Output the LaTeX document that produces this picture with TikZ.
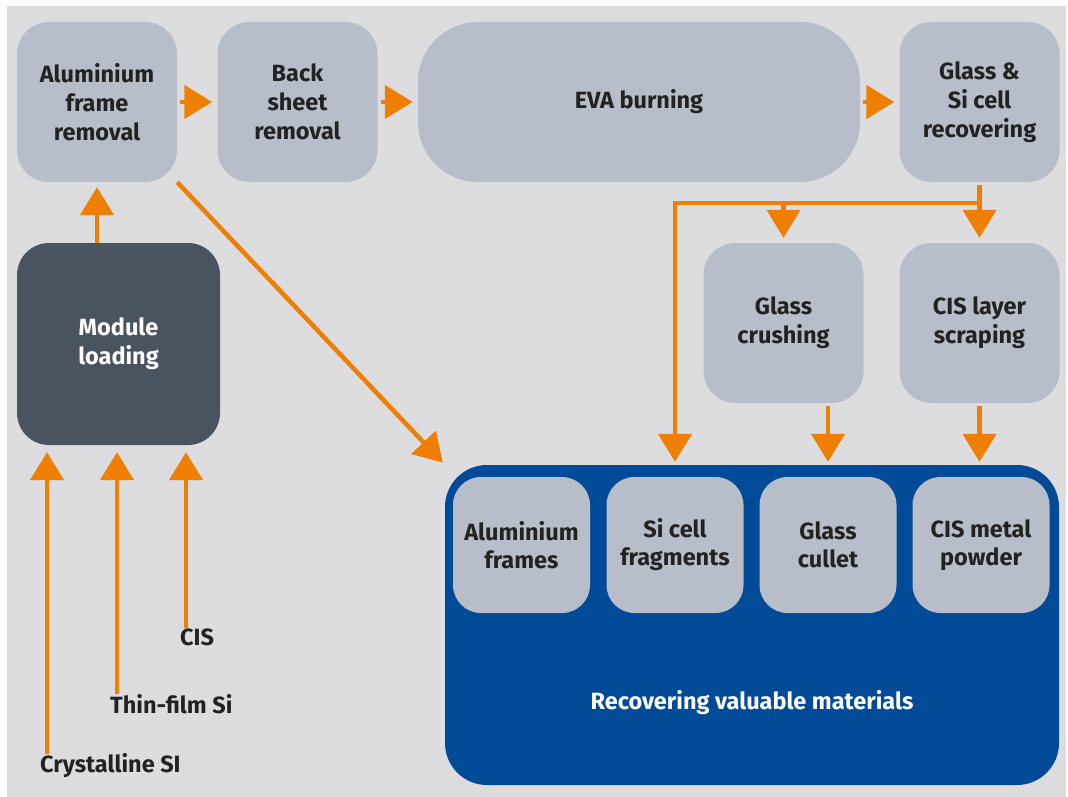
\documentclass[tikz,border=0pt]{standalone}
\usepackage{fontspec}
\setmainfont{Fira Sans}
\usetikzlibrary{arrows.meta}

\definecolor{bggray}{HTML}{DDDDE0}
\definecolor{boxgray}{HTML}{B8BEC9}
\definecolor{slate}{HTML}{4A5461}
\definecolor{deepblue}{HTML}{004A97}
\definecolor{flowor}{HTML}{EE7F00}
\definecolor{inkdark}{HTML}{222222}

\tikzset{
  procbox/.style={fill=boxgray, rounded corners=32pt, minimum width=160pt, minimum height=160pt,
    align=center, text=inkdark, font=\bfseries\fontsize{23.5}{29}\selectfont},
  loadbox/.style={procbox, fill=slate, text=white, minimum width=203pt, minimum height=202pt},
  matbox/.style={procbox, rounded corners=28pt, minimum width=137pt, minimum height=136pt,
    font=\bfseries\fontsize{23.5}{28}\selectfont},
  bluebox/.style={fill=deepblue, rounded corners=42pt, minimum width=614pt, minimum height=320pt},
  lab/.style={text=inkdark, inner sep=0pt, font=\bfseries\fontsize{23.5}{26}\selectfont},
  flow/.style={draw=flowor, line width=4.5pt, -{Triangle[width=33pt,length=28pt]}}
}

\begin{document}
\begin{tikzpicture}[x=1pt,y=-1pt]
\useasboundingbox (0,0) rectangle (1068,797);
\fill[bggray] (7,6) rectangle (1066,797);

%% process chain
\node[procbox] (alu) at (97,102) {Aluminium\\frame\\removal};
\node[procbox] (back) at (297.5,102) {Back\\sheet\\removal};
\node[procbox, minimum width=442pt, rounded corners=60pt] (eva) at (639,102) {EVA burning};
\node[procbox] (glrec) at (979.5,102) {Glass \&\\Si cell\\recovering};
\node[procbox] (crush) at (783.5,323) {Glass\\crushing};
\node[procbox] (scrape) at (979.5,323) {CIS layer\\scraping};
\node[loadbox] (load) at (118.5,344) {Module\\loading};

%% recovered materials
\node[bluebox] (recov) at (752,625) {};
\node[matbox] (frames) at (521.5,545) {Aluminium\\frames};
\node[matbox] (frag) at (675,545) {Si cell\\fragments};
\node[matbox] (cullet) at (828,545) {Glass\\cullet};
\node[matbox] (powder) at (981,545) {CIS metal\\powder};
\node[text=white, font=\bfseries\fontsize{23.5}{26}\selectfont] (recovtxt) at (752,703) {Recovering valuable materials};

%% module types
\node[lab, anchor=west] (crys) at (40,766) {Crystalline SI};
\node[lab, anchor=west] (thin) at (110,704) {Thin-film Si};
\node[lab, anchor=west] (cis) at (180,637) {CIS};

%% arrows
\draw[flow, shorten <=3pt, shorten >=5pt] (alu.east) -- (back.west);
\draw[flow, shorten <=3pt, shorten >=5pt] (back.east) -- (eva.west);
\draw[flow, shorten <=3pt, shorten >=5pt] (eva.east) -- (glrec.west);
\draw[flow, shorten >=5pt] (alu.south |- load.north) -- (alu.south);
\draw[flow, shorten >=3pt] (alu.south east) -- (recov.north west);

\coordinate (split) at (979.5,203);
\draw[flow, shorten <=3pt, shorten >=5pt] (glrec.south) -- (scrape.north);
\draw[flow, shorten >=3pt] (split) -| (frag.north |- recov.north);
\draw[flow, shorten >=5pt] (crush.north |- split) -- (crush.north);
\draw[flow, shorten <=3pt, shorten >=3pt] (cullet.north |- crush.south) -- (cullet.north |- recov.north);
\draw[flow, shorten <=3pt, shorten >=3pt] (scrape.south) -- (scrape.south |- recov.north);

\draw[flow, shorten >=7pt] ([xshift=7pt]crys.north west) -- ([xshift=7pt]crys.north west |- load.south);
\draw[flow, shorten >=7pt] ([xshift=7pt]thin.north west) -- ([xshift=7pt]thin.north west |- load.south);
\draw[flow, shorten >=7pt] ([xshift=6pt]cis.north west) -- ([xshift=6pt]cis.north west |- load.south);

\end{tikzpicture}
\end{document}
